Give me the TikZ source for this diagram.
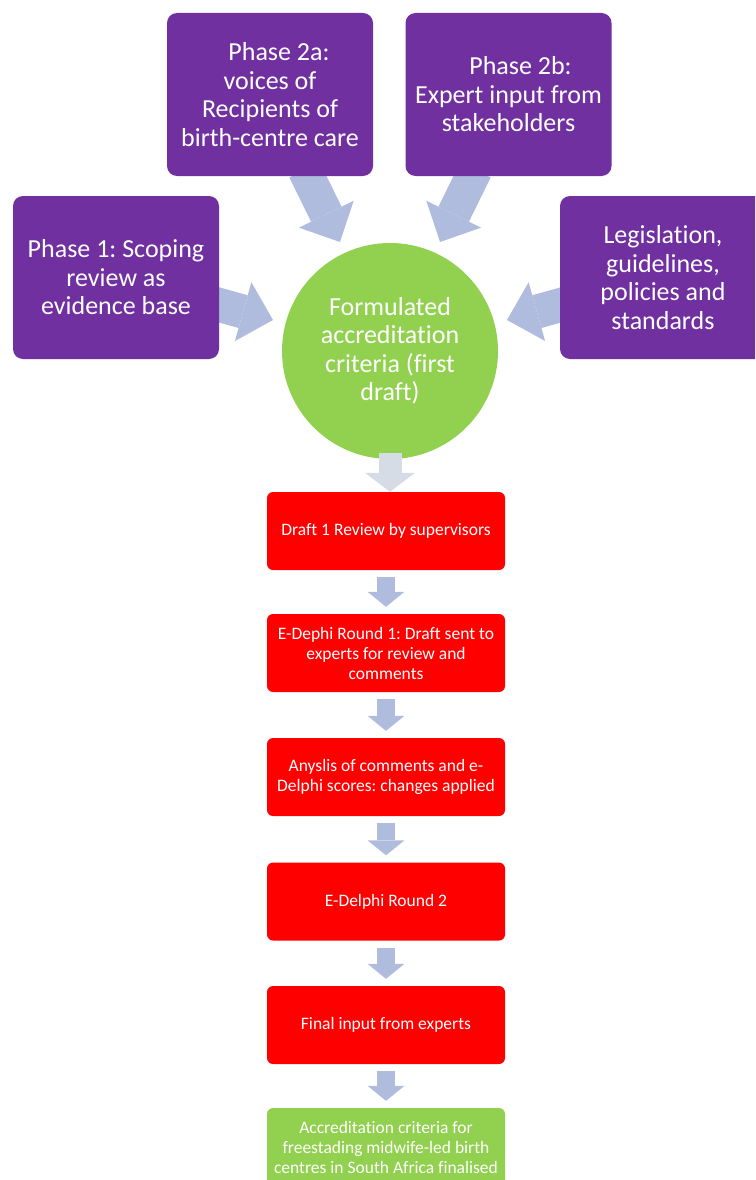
\documentclass[tikz,border=0pt]{standalone}
\usepackage{fontspec}
\setmainfont{Carlito}[Ligatures=CommonOff]
\usetikzlibrary{arrows.meta}
\definecolor{ppurple}{HTML}{7030A0}
\definecolor{pgreen}{HTML}{92D050}
\definecolor{pred}{HTML}{FF0000}
\definecolor{arrblue}{RGB}{176,188,222}
\definecolor{arrgrey}{RGB}{214,220,229}
\pgfdeclarelayer{bg}
\pgfsetlayers{bg,main}
\frenchspacing
\begin{document}
\begin{tikzpicture}[x=1pt,y=-1pt,
  phase/.style={rectangle, rounded corners=10pt, fill=ppurple, text=white,
    minimum width=206pt, minimum height=163pt, align=center, inner sep=0pt,
    font=\fontsize{26}{28.5}\selectfont},
  hub/.style={circle, fill=pgreen, text=white, minimum size=216pt, align=center,
    inner sep=0pt, font=\fontsize{26}{28.5}\selectfont},
  stepbox/.style={rectangle, rounded corners=6pt, fill=pred, text=white,
    minimum width=238pt, minimum height=78pt, align=center, inner sep=0pt,
    font=\fontsize{17.5}{20}\selectfont},
  finalbox/.style={stepbox, fill=pgreen},
  bigarr/.style={line width=34pt, draw=arrblue,
    -{Triangle[length=31pt,width=61pt,line width=0pt]}},
  downarr/.style={line width=18pt, draw=arrblue,
    -{Triangle[length=15pt,width=37pt,line width=0pt]},
    shorten <=7pt, shorten >=7pt},
  firstarr/.style={line width=23pt, draw=arrgrey,
    -{Triangle[length=19pt,width=50pt,line width=0pt]}}
]
\useasboundingbox (0,0) rectangle (755,1180);
\clip (0,0) rectangle (755,1180);

% input boxes
\node[phase] (p2a) at (270,94.5) {\hspace*{18pt}Phase 2a:\\voices of\\Recipients of\\birth-centre care};
\node[phase] (p2b) at (508.5,94.5) {\hspace*{24pt}Phase 2b:\\Expert input from\\stakeholders};
\node[phase] (p1) at (116,277.5) {Phase 1: Scoping\\review as\\evidence base};
\node[phase] (leg) at (663,277.5) {Legislation,\\guidelines,\\policies and\\standards};

% hub
\node[hub] (hub) at (390,351) {Formulated\\accreditation\\criteria (first\\draft)};

% process steps
\node[stepbox] (s1) at (386,531) {Draft 1 Review by supervisors};
\node[stepbox] (s2) at (386,653) {E-Dephi Round 1: Draft sent to\\experts for review and\\comments};
\node[stepbox] (s3) at (386,777) {Anyslis of comments and e-\\Delphi scores: changes applied};
\node[stepbox] (s4) at (386,901.5) {E-Delphi Round 2};
\node[stepbox] (s5) at (386,1025) {Final input from experts};
\node[finalbox] (s6) at (386,1147) {Accreditation criteria for\\freestading midwife-led birth\\centres in South Africa finalised};

% big input arrows
\coordinate (a2a) at (304.6,170);
\coordinate (t2a) at (340,242);
\coordinate (a2b) at (475.4,170);
\coordinate (t2b) at (440,242);
\coordinate (a1) at (213.4,303.3);
\coordinate (t1) at (273,320);
\coordinate (al) at (566.6,303.3);
\coordinate (tl) at (507,320);
\begin{pgfonlayer}{bg}
\draw[bigarr] (a2a) -- (t2a);
\draw[bigarr] (a2b) -- (t2b);
\draw[bigarr] (a1) -- (t1);
\draw[bigarr] (al) -- (tl);
\end{pgfonlayer}

% hub to first step
\coordinate (hs) at ([yshift=6pt]hub.south);
\draw[firstarr] (hs) -- (hs |- s1.north);

% step arrows
\draw[downarr] (s1.south) -- (s2.north);
\draw[downarr] (s2.south) -- (s3.north);
\draw[downarr] (s3.south) -- (s4.north);
\draw[downarr] (s4.south) -- (s5.north);
\draw[downarr] (s5.south) -- (s6.north);
\end{tikzpicture}
\end{document}
